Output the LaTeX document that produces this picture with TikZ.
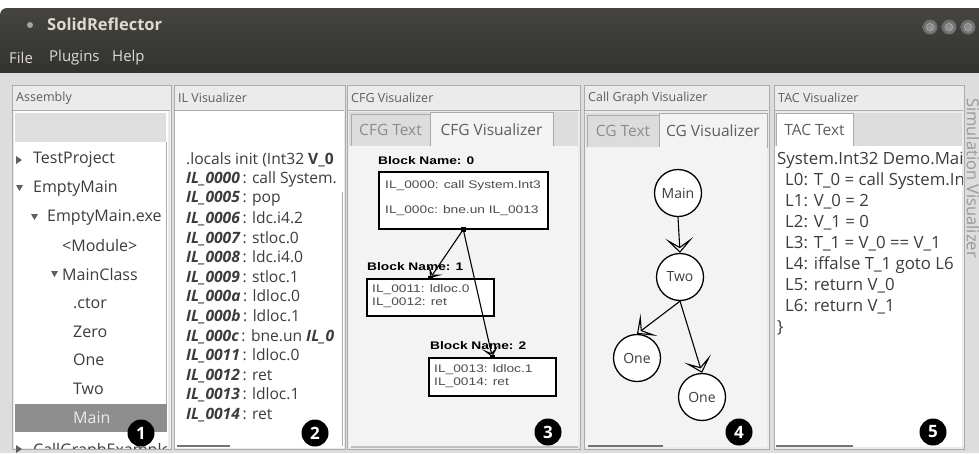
\documentclass[tikz,border=0pt]{standalone}
\usepackage{fontspec}
\setmainfont{Open Sans}
\newfontfamily\arialf{Liberation Sans}
\usetikzlibrary{arrows.meta}
\definecolor{barA}{HTML}{45443F}
\definecolor{barB}{HTML}{2C2C2A}
\definecolor{winbg}{HTML}{DDDDDD}
\definecolor{hdr}{HTML}{EBEBEB}
\definecolor{frame}{HTML}{ABABAB}
\definecolor{tabg}{HTML}{DCDCDC}
\definecolor{pane}{HTML}{F3F3F3}
\definecolor{txt}{HTML}{3C3C3C}
\definecolor{lbl}{HTML}{5E5E5E}
\definecolor{selbar}{HTML}{8E8E8E}
\definecolor{menutxt}{HTML}{DDDAD2}
\newcommand{\wx}[1]{\scalebox{1.25}[1]{#1}}
\newcommand{\ilab}[1]{{\bfseries\itshape #1}}
\begin{document}
\begin{tikzpicture}[x=1pt,y=-1pt,
  hdrtxt/.style={anchor=west,inner sep=0,text=lbl,font=\fontsize{12.5}{14}\selectfont},
  treetxt/.style={anchor=west,inner sep=0,text=txt,font=\fontsize{16}{18}\selectfont},
  iltxt/.style={anchor=west,inner sep=0,text=txt,font=\fontsize{15.6}{17}\selectfont},
  tactxt/.style={anchor=west,inner sep=0,text=txt,font=\fontsize{16.8}{18}\selectfont},
  tabtxt/.style={inner sep=0,font=\fontsize{15.5}{17}\selectfont},
  badge/.style={circle,fill=black,text=white,minimum size=27pt,inner sep=0,font=\bfseries\fontsize{17}{17}\selectfont},
  blk/.style={anchor=west,inner sep=0,font=\arialf\bfseries\fontsize{11}{12}\selectfont},
  blkbox/.style={draw=black,line width=1.5pt,fill=white,anchor=north west,inner sep=0},
  blktxt/.style={anchor=west,inner sep=0,text=black!70,font=\arialf\fontsize{11}{12}\selectfont},
  sq/.style={fill=black,minimum size=4.5pt,inner sep=0},
  cfgarrow/.style={line width=1.1pt,-{Stealth[open,length=10pt,width=17pt,inset=6pt]}},
  cgnode/.style={circle,draw=black,line width=1.3pt,fill=white,minimum size=47pt,inner sep=0,font=\fontsize{14}{15}\selectfont,text=txt},
  cgarrow/.style={line width=1.1pt,-{Stealth[open,length=15pt,width=28pt,inset=9pt]}},
  tri/.style={fill=lbl},
  thumb/.style={line width=2pt,draw=black!55},
  panel/.style={draw=frame,fill=hdr,line width=0.8pt},
]
\useasboundingbox (0,0) rectangle (979,453);
\fill[white] (0,0) rectangle (979,453);
% title bar
\shade[top color=barA,bottom color=barB,rounded corners=7pt] (0,8) rectangle (995,95);
\fill[winbg] (0,73) rectangle (979,453);
\fill[black!35] (30,25) circle (3);
\node[anchor=west,inner sep=0,text=menutxt,font=\bfseries\fontsize{16.5}{18}\selectfont] (title) at (47,24) {SolidReflector};
\node[anchor=west,inner sep=0,text=menutxt,font=\fontsize{15}{17}\selectfont] (mfile) at (9,58) {File};
\node[anchor=west,inner sep=0,text=menutxt,font=\fontsize{15}{17}\selectfont] (mplug) at (49,58) {Plugins};
\node[anchor=west,inner sep=0,text=menutxt,font=\fontsize{15}{17}\selectfont] (mhelp) at (112,58) {Help};
\foreach \cx in {930,949,968}{
  \shade[inner color=black!40,outer color=black!60] (\cx,27) circle (7.5);
  \draw[black!30,line width=0.6pt] (\cx,27) circle (3.5);
}
% ---------------- panel 1: Assembly
\draw[panel] (12,85) rectangle (171,449);
\draw[frame] (13,110) -- (170,110);
\node[hdrtxt] (h1) at (16,98) {Assembly};
\fill[white] (14,111) rectangle (168,448);
\fill[black!13] (15,113) rectangle (166,142);
\draw[frame,line width=0.8pt] (166,142) -- (166,404);
\fill[selbar] (15,404) rectangle (167,432);
\fill[tri] (16,156) -- (22,160) -- (16,164) -- cycle;
\fill[tri] (16,185) -- (23,185) -- (19.5,191) -- cycle;
\fill[tri] (31,214) -- (38,214) -- (34.5,220) -- cycle;
\fill[tri] (51,271) -- (58,271) -- (54.5,277) -- cycle;
\fill[tri] (16,445) -- (22,449) -- (16,453) -- cycle;
\begin{scope}
\clip (14,111) rectangle (166,448);
\node[treetxt] (t1) at (33,160) {TestProject};
\node[treetxt] (t2) at (33,188.6) {EmptyMain};
\node[treetxt] (t3) at (47,217.2) {EmptyMain.exe};
\node[treetxt] (t4) at (62,245.8) {<Module>};
\node[treetxt] (t5) at (62,274.4) {MainClass};
\node[treetxt] (t6) at (73,303) {.ctor};
\node[treetxt] (t7) at (73,331.6) {Zero};
\node[treetxt] (t8) at (73,360.2) {One};
\node[treetxt] (t9) at (73,388.8) {Two};
\node[treetxt,text=black!8] (t10) at (73,417.4) {Main};
\node[treetxt] (t11) at (33,451) {CallGraphExample};
\end{scope}
% ---------------- panel 2: IL Visualizer
\draw[panel] (174,85) rectangle (345,449);
\draw[frame] (175,110) -- (344,110);
\node[hdrtxt] (h2) at (178,98) {IL Visualizer};
\fill[white] (175,111) rectangle (344,448);
\draw[frame,line width=0.8pt] (342,192) -- (342,446);
\draw[thumb] (177,446) -- (230,446);
\begin{scope}
\clip (175,111) rectangle (344,448);
\node[iltxt] (l0) at (186,160) {.locals init (Int32 \textbf{V\_0}};
\node[iltxt] (l1) at (186,179.6) {\ilab{IL\_0000}\,: call System.};
\node[iltxt] (l2) at (186,199.2) {\ilab{IL\_0005}\,: pop};
\node[iltxt] (l3) at (186,218.8) {\ilab{IL\_0006}\,: ldc.i4.2};
\node[iltxt] (l4) at (186,238.4) {\ilab{IL\_0007}\,: stloc.0};
\node[iltxt] (l5) at (186,258) {\ilab{IL\_0008}\,: ldc.i4.0};
\node[iltxt] (l6) at (186,277.6) {\ilab{IL\_0009}\,: stloc.1};
\node[iltxt] (l7) at (186,297.2) {\ilab{IL\_000a}\,: ldloc.0};
\node[iltxt] (l8) at (186,316.8) {\ilab{IL\_000b}\,: ldloc.1};
\node[iltxt] (l9) at (186,336.4) {\ilab{IL\_000c}\,: bne.un \ilab{IL\_0}};
\node[iltxt] (l10) at (186,356) {\ilab{IL\_0011}\,: ldloc.0};
\node[iltxt] (l11) at (186,375.6) {\ilab{IL\_0012}\,: ret};
\node[iltxt] (l12) at (186,395.2) {\ilab{IL\_0013}\,: ldloc.1};
\node[iltxt] (l13) at (186,414.8) {\ilab{IL\_0014}\,: ret};
\end{scope}
% ---------------- panel 3: CFG Visualizer
\draw[panel] (347,85) rectangle (580,449);
\draw[frame] (348,110) -- (579,110);
\node[hdrtxt] (h3) at (351,98) {CFG Visualizer};
\fill[tabg] (349,112) rectangle (578,146);
\draw[frame,fill=tabg] (351,114) rectangle (430,146);
\node[tabtxt,text=black!45] (tab3a) at (390.5,130) {CFG Text};
\draw[frame,fill=pane] (430,112) rectangle (553,146);
\node[tabtxt,text=lbl] (tab3b) at (491.5,130) {CFG Visualizer};
\fill[pane] (349,146) rectangle (578,447);
\draw[thumb,draw=black!25] (351,447) -- (578,447);
\node[blk] (bl0) at (378,161) {\wx{Block Name: 0}};
\node[blkbox,minimum width=169pt,minimum height=57pt] (b0) at (378,171) {};
\node[blktxt] (b0a) at (385,186) {\wx{IL\_0000: call System.Int3}};
\node[blktxt] (b0b) at (385,211) {\wx{IL\_000c: bne.un IL\_0013}};
\node[blk] (bl1) at (367,267) {\wx{Block Name: 1}};
\node[blkbox,minimum width=127pt,minimum height=37pt] (b1) at (366,278) {};
\node[blktxt] (b1a) at (372,290) {\wx{IL\_0011: ldloc.0}};
\node[blktxt] (b1b) at (372,303) {\wx{IL\_0012: ret}};
\node[blk] (bl2) at (430,346) {\wx{Block Name: 2}};
\node[blkbox,minimum width=127pt,minimum height=38pt] (b2) at (428,357) {};
\node[blktxt] (b2a) at (434,370) {\wx{IL\_0013: ldloc.1}};
\node[blktxt] (b2b) at (434,383) {\wx{IL\_0014: ret}};
\node[sq] (s0) at (b0.south) {};
\node[sq] (s1) at (b1.north) {};
\node[sq] (s2) at (b2.north) {};
\draw[cfgarrow] (s0.center) -- (s1.center);
\draw[cfgarrow] (s0.center) -- (s2.center);
% ---------------- panel 4: Call Graph Visualizer
\draw[panel] (584,85) rectangle (769,449);
\draw[frame] (585,110) -- (768,110);
\node[hdrtxt] (h4) at (588,98) {Call Graph Visualizer};
\fill[tabg] (586,113) rectangle (767,147);
\draw[frame,fill=tabg] (587,115) rectangle (659,147);
\node[tabtxt,text=black!45] (tab4a) at (623,131) {CG Text};
\draw[frame,fill=pane] (659,113) rectangle (767,147);
\node[tabtxt,text=lbl] (tab4b) at (713,131) {CG Visualizer};
\fill[pane] (586,147) rectangle (767,447);
\draw[thumb] (588,446) -- (663,446);
\node[cgnode] (main) at (678,193) {Main};
\node[cgnode] (two) at (680,277) {Two};
\node[cgnode] (one1) at (637,358) {One};
\node[cgnode] (one2) at (702,397) {One};
\draw[cgarrow] (main.south) -- (two.north);
\draw[cgarrow] (two.south) -- (one1.north);
\draw[cgarrow] (two.south) -- (one2.north);
% ---------------- panel 5: TAC Visualizer
\draw[panel] (774,85) rectangle (964,449);
\draw[frame] (775,110) -- (963,110);
\node[hdrtxt] (h5) at (778,98) {TAC Visualizer};
\fill[tabg] (775,113) rectangle (962,146);
\draw[frame,fill=white] (776,113) rectangle (853,146);
\node[tabtxt,text=lbl] (tab5a) at (814.5,130) {TAC Text};
\fill[white] (775,146) rectangle (962,447);
\draw[thumb] (776,446) -- (853,446);
\begin{scope}
\clip (775,146) rectangle (962,447);
\node[tactxt] (c0) at (777,160) {System.Int32 Demo.Main};
\node[tactxt] (c1) at (785,181) {L0: T\_0 = call System.Int};
\node[tactxt] (c2) at (785,202) {L1: V\_0 = 2};
\node[tactxt] (c3) at (785,223) {L2: V\_1 = 0};
\node[tactxt] (c4) at (785,244) {L3: T\_1 = V\_0 == V\_1};
\node[tactxt] (c5) at (785,265) {L4: iffalse T\_1 goto L6};
\node[tactxt] (c6) at (785,286) {L5: return V\_0};
\node[tactxt] (c7) at (785,307) {L6: return V\_1};
\node[tactxt] (c8) at (777,328) {\}};
\end{scope}
% right vertical tab
\node[anchor=west,inner sep=0,rotate=-90,text=black!40,font=\fontsize{16.5}{18}\selectfont] (sim) at (973,98) {Simulation Visualizer};
% badges
\node[badge] (n1) at (141,433) {1};
\node[badge] (n2) at (315,433) {2};
\node[badge] (n3) at (548,432) {3};
\node[badge] (n4) at (739,432) {4};
\node[badge] (n5) at (933,432) {5};
\end{tikzpicture}
\end{document}
